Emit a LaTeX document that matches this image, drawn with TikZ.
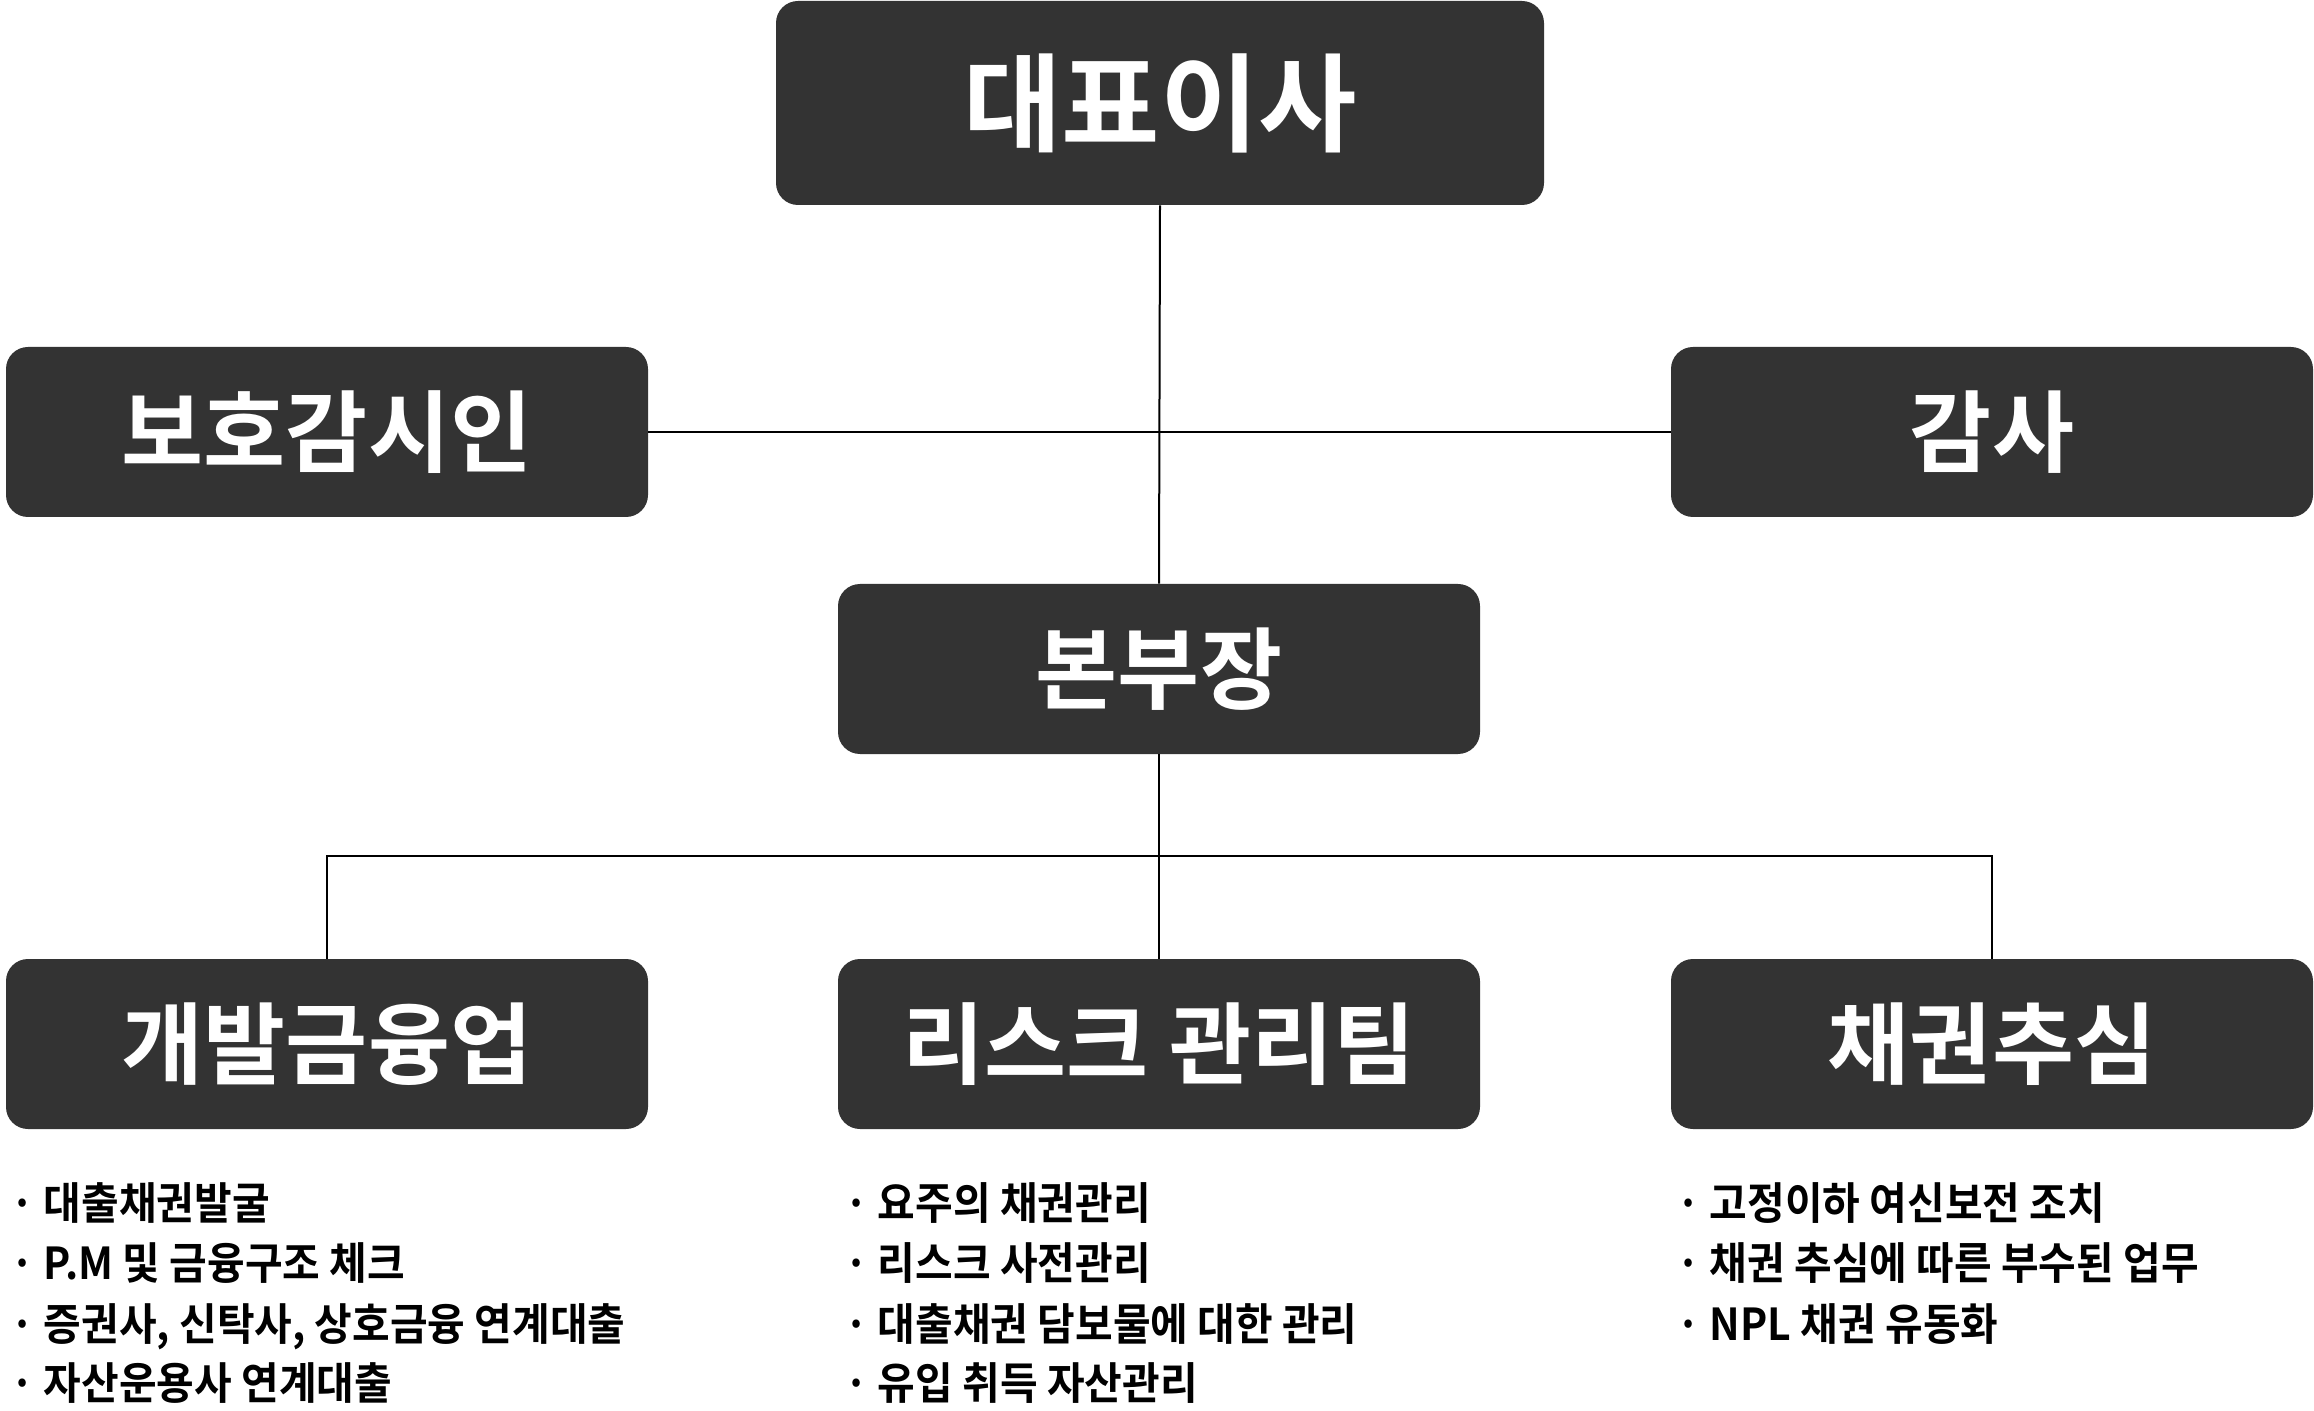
\documentclass[tikz,border=0pt]{standalone}
\usepackage{fontspec}
\newfontfamily\krb{Noto Sans CJK KR Bold}
\newfontfamily\krn{Noto Sans CJK KR Bold}[FakeStretch=0.93]
\definecolor{boxgray}{HTML}{333333}
\tikzset{
  orgbox/.style={rectangle, rounded corners=11pt, fill=boxgray, text=white,
    minimum width=321pt, minimum height=85pt, inner sep=0pt,
    font=\krb\fontsize{44.6pt}{50pt}\selectfont},
  topbox/.style={orgbox, minimum width=384pt, minimum height=102pt,
    font=\krb\fontsize{53.5pt}{60pt}\selectfont},
  link/.style={draw=black, line width=1pt},
  item/.style={anchor=base west, inner sep=0pt, text=black,
    font=\krn\fontsize{22pt}{26pt}\selectfont}
}
\begin{document}
\begin{tikzpicture}[x=0.5pt,y=-0.5pt]
\useasboundingbox (0,0) rectangle (2314,1411);
% boxes
\node[topbox] (ceo) at (1160,103) {대표이사};
\node[orgbox] (guard) at (327,432) {보호감시인};
\node[orgbox] (audit) at (1992,432) {감사};
\node[orgbox] (hq) at (1159,669) {본부장};
\node[orgbox] (dev) at (327,1044) {개발금융업};
\node[orgbox] (risk) at (1159,1044) {리스크 관리팀};
\node[orgbox] (debt) at (1992,1044) {채권추심};
% connectors
\coordinate (bl) at (327,856);
\coordinate (br) at (1992,856);
\draw[link] (ceo.south) -- (hq.north);
\draw[link] (guard.east) -- (audit.west);
\draw[link] (hq.south) -- (risk.north);
\draw[link] (dev.north) -- (bl) -- (br) -- (debt.north);
% bullet items
\node[item] (a1) at (10,1219) {· 대출채권발굴};
\node[item] (a2) at (10,1279) {· P.M 및 금융구조 체크};
\node[item] (a3) at (10,1340) {· 증권사, 신탁사, 상호금융 연계대출};
\node[item] (a4) at (10,1399) {· 자산운용사 연계대출};
\node[item] (b1) at (844,1219) {· 요주의 채권관리};
\node[item] (b2) at (844,1279) {· 리스크 사전관리};
\node[item] (b3) at (844,1340) {· 대출채권 담보물에 대한 관리};
\node[item] (b4) at (844,1399) {· 유입 취득 자산관리};
\node[item] (c1) at (1676,1219) {· 고정이하 여신보전 조치};
\node[item] (c2) at (1676,1279) {· 채권 추심에 따른 부수된 업무};
\node[item] (c3) at (1676,1340) {· NPL 채권 유동화};
\end{tikzpicture}
\end{document}
